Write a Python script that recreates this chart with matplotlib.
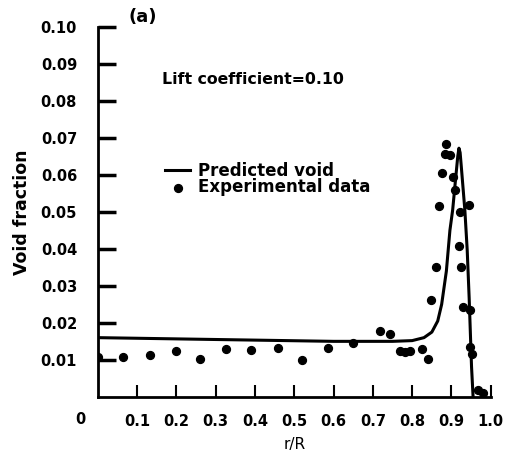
import matplotlib.pyplot as plt
import numpy as np

# Predicted void fraction profile (lift coefficient 0.10)
pred_r = [0.0, 0.3, 0.6, 0.75, 0.80, 0.83, 0.85, 0.865, 0.875, 0.887, 0.896,
          0.903, 0.911, 0.916, 0.919, 0.922, 0.925, 0.934, 0.940, 0.945, 0.951, 0.955]
pred_void = [0.0160, 0.0155, 0.0150, 0.0150, 0.0152, 0.0160, 0.0175, 0.0205, 0.0250, 0.0340, 0.0450,
             0.0505, 0.0595, 0.0650, 0.0672, 0.0660, 0.0622, 0.0505, 0.0397, 0.0267, 0.0082, 0.0]

# Experimental data
exp_r = [0.0, 0.065, 0.133, 0.198, 0.260, 0.326, 0.391, 0.458, 0.519, 0.585, 0.650,
         0.718, 0.743, 0.769, 0.781, 0.794, 0.824, 0.839, 0.849, 0.860, 0.869,
         0.877, 0.883, 0.887, 0.896, 0.903, 0.909, 0.919, 0.921, 0.923, 0.930,
         0.945, 0.947, 0.947, 0.951, 0.968, 0.980]
exp_void = [0.0109, 0.0107, 0.0113, 0.0125, 0.0102, 0.0129, 0.0127, 0.0131, 0.0100, 0.0131, 0.0145,
            0.0177, 0.0169, 0.0124, 0.0120, 0.0125, 0.0130, 0.0103, 0.0262, 0.0352, 0.0516,
            0.0606, 0.0656, 0.0684, 0.0654, 0.0593, 0.0559, 0.0408, 0.0500, 0.0350, 0.0242,
            0.0519, 0.0235, 0.0136, 0.0116, 0.0019, 0.0010]

xticks = [0.1, 0.2, 0.3, 0.4, 0.5, 0.6, 0.7, 0.8, 0.9, 1.0]
yticks = [0.01, 0.02, 0.03, 0.04, 0.05, 0.06, 0.07, 0.08, 0.09, 0.10]

plt.rcParams['font.family'] = ['DejaVu Sans']

fig = plt.figure(figsize=(5.07, 4.62), dpi=100)
ax = fig.add_axes([0.193, 0.141, 0.775, 0.801])

ax.plot(pred_r, pred_void, color='black', lw=2.2, label='Predicted void')
ax.scatter(exp_r, exp_void, s=32, color='black', zorder=3, label='Experimental data')

ax.set_xlim(0, 1.0)
ax.set_ylim(0, 0.10)
ax.spines['top'].set_visible(False)
ax.spines['right'].set_visible(False)
ax.spines['left'].set_linewidth(2)
ax.spines['bottom'].set_linewidth(2)

ax.set_yticks(yticks)
ax.set_yticklabels([f'{v:.2f}' for v in yticks], fontweight='bold', fontsize=10.5)
ax.tick_params(axis='y', direction='in', length=13, width=2.5, pad=15)

ax.set_xticks(xticks)
ax.set_xticklabels([f'{v:.1f}' for v in xticks], fontweight='bold', fontsize=10.5)
ax.tick_params(axis='x', direction='in', length=9, width=1.5, pad=12)
ax.text(-0.045, -0.0062, '0', fontweight='bold', fontsize=10.5, ha='center', va='center')

ax.set_ylabel('Void fraction', fontweight='bold', fontsize=12.5, labelpad=7)
ax.set_xlabel('r/R', fontsize=11, labelpad=6)

ax.text(0.113, 0.1026, '(a)', fontsize=13, fontweight='bold', ha='center', va='center',
        clip_on=False)
ax.text(0.164, 0.0857, 'Lift coefficient=0.10', fontweight='bold', fontsize=11.3,
        ha='left', va='center')

leg = ax.legend(loc='upper left', bbox_to_anchor=(0.171, 0.635), frameon=False,
                borderpad=0, borderaxespad=0, handlelength=1.5, handletextpad=0.45,
                labelspacing=-0.1, prop={'weight': 'bold', 'size': 12})

fig.savefig('out.png', dpi=100)
